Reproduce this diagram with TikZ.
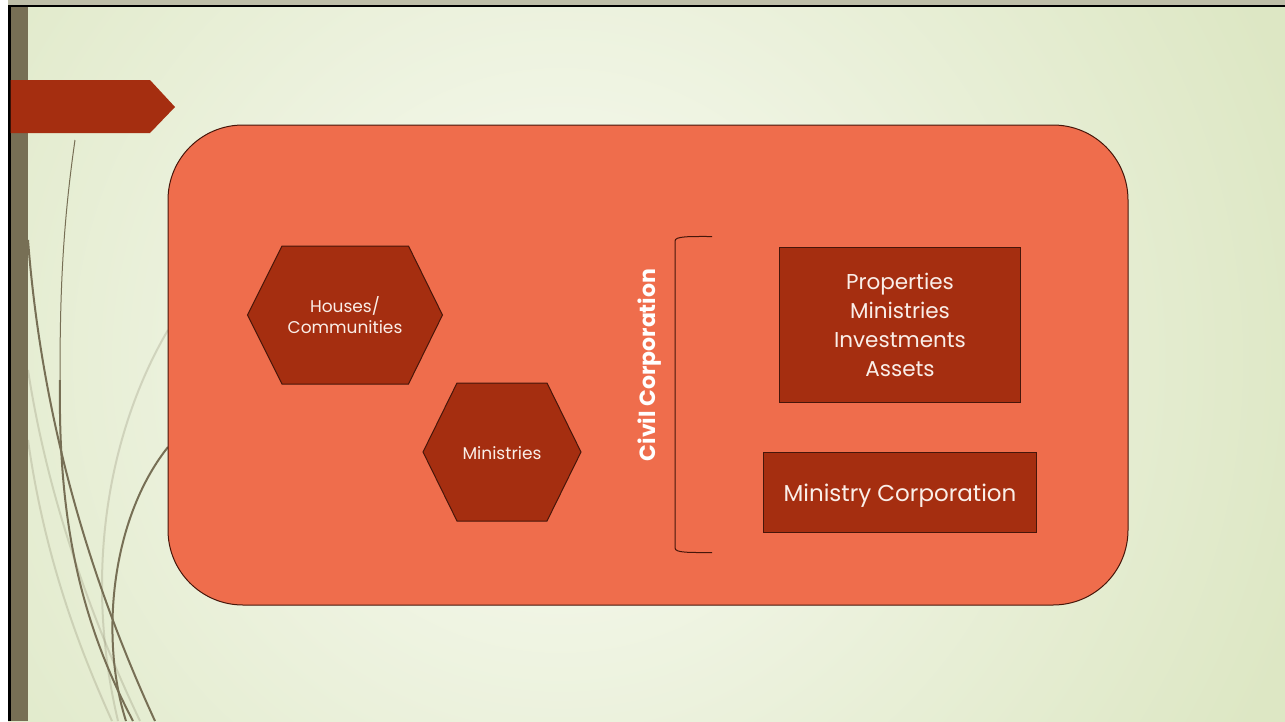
\documentclass[tikz,border=0pt]{standalone}
\usepackage{fontspec}
\setmainfont{Poppins}
\begin{document}
\definecolor{bgout}{RGB}{221,231,196}
\definecolor{bgin}{RGB}{249,251,243}
\definecolor{band}{RGB}{119,111,85}
\definecolor{topstrip}{RGB}{190,190,168}
\definecolor{darkred}{RGB}{165,46,16}
\definecolor{salmon}{RGB}{239,109,76}
\definecolor{edge}{RGB}{70,22,10}
\definecolor{txt}{RGB}{250,238,232}
\begin{tikzpicture}[x=1pt,y=-1pt,
  darkbox/.style={fill=darkred,draw=edge,line width=1pt},
  curve/.style={draw=band,line width=2pt},
  faint/.style={draw=band,line width=2pt,opacity=0.22},
  lbl/.style={text=txt,align=center,inner sep=0pt}]
\useasboundingbox (0,0) rectangle (1285,721);
% background
\fill[white] (0,0) rectangle (1285,721);
\begin{scope}
\clip (8,5) rectangle (1285,721);
\shade[inner color=bgin,outer color=bgout] (-220,-420) rectangle (1340,1140);
\end{scope}
\fill[topstrip] (8,0) rectangle (1285,4.5);
\fill[black] (8,4.5) rectangle (1285,7);
\fill[black] (8,4.5) rectangle (10.5,721);
\fill[band] (10.5,7) rectangle (28,721);
% decorative curves
\draw[faint] (168,330) .. controls (115,420) and (80,560) .. (118,721);
\draw[faint] (28,370) .. controls (48,500) and (92,620) .. (140,721);
\draw[faint] (28,440) .. controls (45,560) and (80,650) .. (112,721);
\draw[curve,line width=1pt] (75,140) .. controls (62,230) and (60,300) .. (60,380);
\draw[curve] (60,380) .. controls (58,520) and (80,620) .. (133,721);
\draw[curve] (28,240) .. controls (42,420) and (90,580) .. (155,721);
\draw[curve] (168,447) .. controls (110,520) and (100,640) .. (126,721);
% banner
\fill[darkred] (10.5,80) -- (150,80) -- (175,107) -- (150,133) -- (10.5,133) -- cycle;
% main rounded rectangle
\draw[fill=salmon,draw=edge,line width=1pt,rounded corners=75pt] (168,125) rectangle (1128,605);
% hexagons
\draw[darkbox] (247.5,315) -- (282,246) -- (408.5,246) -- (442.5,315) -- (408.5,384) -- (282,384) -- cycle;
\node[lbl,font=\fontsize{17}{21}\selectfont] (houses) at (345,315.5) {Houses/\\Communities};
\draw[darkbox] (423,452) -- (457,383) -- (547,383) -- (581,452) -- (547,521) -- (457,521) -- cycle;
\node[lbl,font=\fontsize{17}{21}\selectfont] (min) at (502,453) {Ministries};
% vertical label
\node[lbl,rotate=90,text=white,font=\bfseries\fontsize{22}{25}\selectfont] (civil) at (650,365) {Civil Corporation};
% brace
\draw[edge,line width=1pt] (712,236.5) .. controls (690,236.5) and (675,236) .. (675,241) -- (675,548) .. controls (675,553) and (690,552.5) .. (712,552.5);
% rectangles
\draw[darkbox] (779.5,247) rectangle (1020.5,402);
\node[lbl,font=\fontsize{21.5}{29}\selectfont] (props) at (900,325) {Properties\\Ministries\\Investments\\Assets};
\draw[darkbox] (763.5,452.5) rectangle (1036,532.5);
\node[lbl,font=\fontsize{23}{25}\selectfont] (mincorp) at (900,495.5) {Ministry Corporation};
\end{tikzpicture}
\end{document}
